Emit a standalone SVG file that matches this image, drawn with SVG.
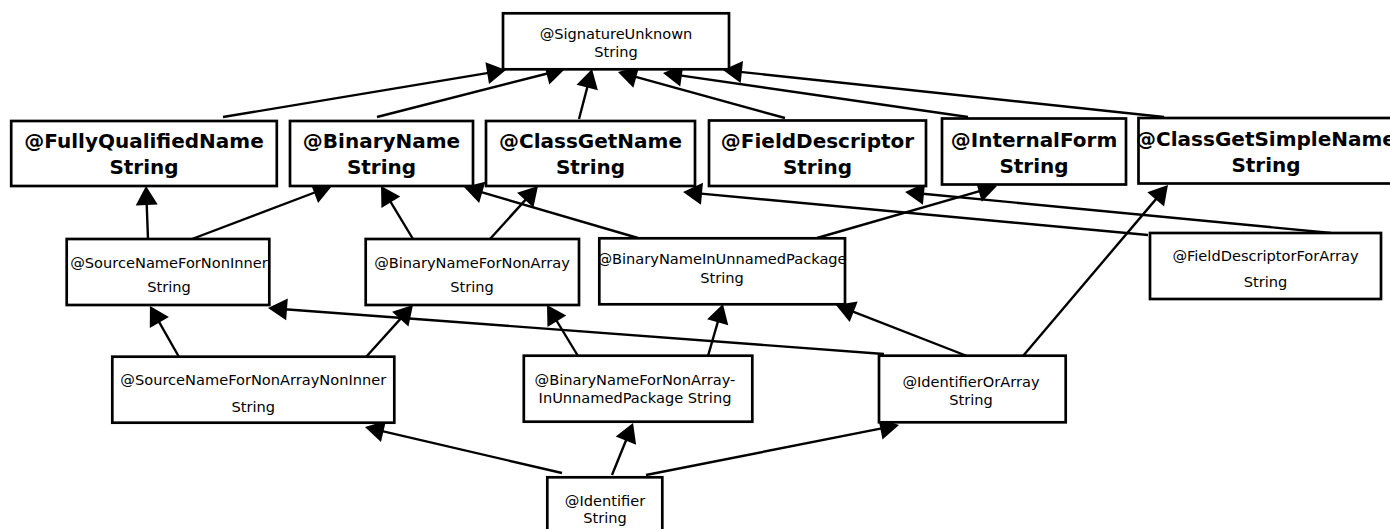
<svg xmlns="http://www.w3.org/2000/svg" width="1390" height="529" viewBox="0 0 1390 529">
<style>
.box{fill:#fff;stroke:#000;stroke-width:2.7}
.t{font-family:"DejaVu Sans",sans-serif;font-size:14.6px;fill:#000;text-anchor:middle}
.b{font-family:"DejaVu Sans",sans-serif;font-size:20px;font-weight:bold;fill:#000;text-anchor:middle}
.e line{stroke:#000;stroke-width:2.4;marker-end:url(#ah)}
</style>
<defs>
<marker id="ah" markerUnits="userSpaceOnUse" markerWidth="19" markerHeight="22" refX="9" refY="11" orient="auto" overflow="visible">
<path d="M0,0 L19,11 L0,22 z" fill="#000"/>
</marker>
</defs>
<rect width="1390" height="529" fill="#fff"/>
<g id="edges" class="e">
<line x1="223" y1="117" x2="496.1" y2="71.6"/>
<line x1="377" y1="117" x2="555.3" y2="71.5"/>
<line x1="579" y1="119" x2="589.5" y2="78.7"/>
<line x1="785" y1="118" x2="627.6" y2="74.7"/>
<line x1="968" y1="117" x2="672.9" y2="74.4"/>
<line x1="1164" y1="117" x2="732.9" y2="71.1"/>
<line x1="148" y1="239" x2="146.4" y2="196"/>
<line x1="192" y1="239" x2="322.6" y2="189.5"/>
<line x1="413" y1="239" x2="386.2" y2="194.6"/>
<line x1="490" y1="239" x2="531.3" y2="193.4"/>
<line x1="638" y1="238" x2="473.6" y2="189.8"/>
<line x1="1148" y1="235" x2="693" y2="192.9"/>
<line x1="1331" y1="233" x2="915" y2="193"/>
<line x1="817" y1="238" x2="987.4" y2="188.8"/>
<line x1="1023" y1="356" x2="1161.5" y2="192.6"/>
<line x1="179" y1="357" x2="154.9" y2="314.7"/>
<line x1="366" y1="357" x2="406.3" y2="312.4"/>
<line x1="578" y1="356" x2="552.2" y2="313.5"/>
<line x1="884" y1="354" x2="278" y2="308.7"/>
<line x1="708" y1="356" x2="720.2" y2="313.6"/>
<line x1="967" y1="356" x2="845.3" y2="308.6"/>
<line x1="562" y1="473" x2="374.7" y2="429.3"/>
<line x1="612" y1="475" x2="629.3" y2="432.3"/>
<line x1="646" y1="475" x2="889.2" y2="426.9"/>
</g>
<g id="SignatureUnknown">
<rect class="box" x="503" y="13.3" width="226" height="56"/>
<text class="t" x="616" y="39.3">@SignatureUnknown</text>
<text class="t" x="616" y="56.7">String</text>
</g>
<g id="FullyQualifiedName">
<rect class="box" x="11.2" y="121" width="265.6" height="65"/>
<text class="b" x="144" y="148">@FullyQualifiedName</text>
<text class="b" x="144" y="174">String</text>
</g>
<g id="BinaryName">
<rect class="box" x="290" y="121" width="183" height="65"/>
<text class="b" x="381.5" y="148">@BinaryName</text>
<text class="b" x="381.5" y="174">String</text>
</g>
<g id="ClassGetName">
<rect class="box" x="486" y="121" width="209" height="65"/>
<text class="b" x="590.5" y="148">@ClassGetName</text>
<text class="b" x="590.5" y="174">String</text>
</g>
<g id="FieldDescriptor">
<rect class="box" x="709" y="120.5" width="217" height="65.5"/>
<text class="b" x="817.5" y="147.5">@FieldDescriptor</text>
<text class="b" x="817.5" y="173.5">String</text>
</g>
<g id="InternalForm">
<rect class="box" x="942" y="118.5" width="184" height="66"/>
<text class="b" x="1034" y="146.5">@InternalForm</text>
<text class="b" x="1034" y="172.5">String</text>
</g>
<g id="ClassGetSimpleName">
<rect class="box" x="1138.5" y="118" width="256" height="65.5"/>
<text class="b" x="1266" y="146">@ClassGetSimpleName</text>
<text class="b" x="1266" y="172">String</text>
</g>
<g id="SourceNameForNonInner">
<rect class="box" x="66.7" y="239" width="202.6" height="66"/>
<text class="t" x="169" y="267.7">@SourceNameForNonInner</text>
<text class="t" x="169" y="292.3">String</text>
</g>
<g id="BinaryNameForNonArray">
<rect class="box" x="365.7" y="239" width="213.3" height="66"/>
<text class="t" x="472" y="267.7">@BinaryNameForNonArray</text>
<text class="t" x="472" y="292.3">String</text>
</g>
<g id="BinaryNameInUnnamedPackage">
<rect class="box" x="599.3" y="238.3" width="245.7" height="66"/>
<text class="t" x="722" y="264.3">@BinaryNameInUnnamedPackage</text>
<text class="t" x="722" y="283.3">String</text>
</g>
<g id="FieldDescriptorForArray">
<rect class="box" x="1150" y="233" width="231" height="66"/>
<text class="t" x="1265.5" y="261">@FieldDescriptorForArray</text>
<text class="t" x="1265.5" y="286.7">String</text>
</g>
<g id="SourceNameForNonArrayNonInner">
<rect class="box" x="112.3" y="356.7" width="282" height="66"/>
<text class="t" x="253.3" y="385">@SourceNameForNonArrayNonInner</text>
<text class="t" x="253.3" y="411.5">String</text>
</g>
<g id="BinaryNameForNonArrayInUnnamedPackage">
<rect class="box" x="523.8" y="355.7" width="228.5" height="66"/>
<text class="t" x="635" y="385">@BinaryNameForNonArray-</text>
<text class="t" x="635" y="402.7">InUnnamedPackage String</text>
</g>
<g id="IdentifierOrArray">
<rect class="box" x="879" y="355.7" width="186.7" height="66.6"/>
<text class="t" x="971" y="386.7">@IdentifierOrArray</text>
<text class="t" x="971" y="405">String</text>
</g>
<g id="Identifier">
<rect class="box" x="547.3" y="477.3" width="115" height="60"/>
<text class="t" x="605" y="505.7">@Identifier</text>
<text class="t" x="605" y="522.7">String</text>
</g>
</svg>
